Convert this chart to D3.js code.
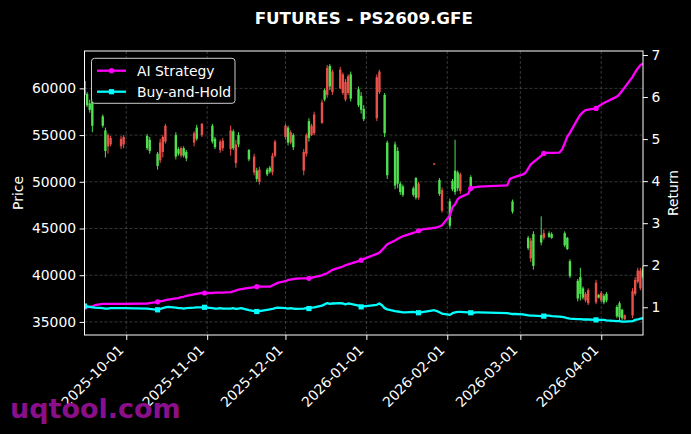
<!DOCTYPE html>
<html><head><meta charset="utf-8">
<script src="https://cdn.jsdelivr.net/npm/d3@7"></script>
<style>html,body{margin:0;padding:0;background:#000;}svg{display:block;}</style>
</head><body>
<script>
// ---------- DATA ----------
const tradeDates = [
"2025-09-15","2025-09-16","2025-09-17","2025-09-18","2025-09-19","2025-09-22","2025-09-23","2025-09-24","2025-09-25","2025-09-26","2025-09-29","2025-09-30",
"2025-10-09","2025-10-10","2025-10-13","2025-10-14","2025-10-15","2025-10-16","2025-10-17","2025-10-20","2025-10-21","2025-10-22","2025-10-23","2025-10-24","2025-10-27","2025-10-28","2025-10-29","2025-10-30","2025-10-31",
"2025-11-03","2025-11-04","2025-11-05","2025-11-06","2025-11-07","2025-11-10","2025-11-11","2025-11-12","2025-11-13","2025-11-14","2025-11-17","2025-11-18","2025-11-19","2025-11-20","2025-11-21","2025-11-24","2025-11-25","2025-11-26","2025-11-27","2025-11-28",
"2025-12-01","2025-12-02","2025-12-03","2025-12-04","2025-12-05","2025-12-08","2025-12-09","2025-12-10","2025-12-11","2025-12-12","2025-12-15","2025-12-16","2025-12-17","2025-12-18","2025-12-19","2025-12-22","2025-12-23","2025-12-24","2025-12-25","2025-12-26","2025-12-29","2025-12-30","2025-12-31",
"2026-01-05","2026-01-06","2026-01-07","2026-01-08","2026-01-09","2026-01-12","2026-01-13","2026-01-14","2026-01-15","2026-01-16","2026-01-19","2026-01-20","2026-01-21","2026-01-22","2026-01-23","2026-01-26","2026-01-27","2026-01-28","2026-01-29","2026-01-30",
"2026-02-02","2026-02-03","2026-02-04","2026-02-05","2026-02-06","2026-02-09","2026-02-10","2026-02-11","2026-02-12","2026-02-13","2026-02-24","2026-02-25","2026-02-26","2026-02-27",
"2026-03-02","2026-03-03","2026-03-04","2026-03-05","2026-03-06","2026-03-09","2026-03-10","2026-03-11","2026-03-12","2026-03-13","2026-03-16","2026-03-17","2026-03-18","2026-03-19","2026-03-20","2026-03-23","2026-03-24","2026-03-25","2026-03-26","2026-03-27","2026-03-30","2026-03-31",
"2026-04-01","2026-04-02","2026-04-03","2026-04-07","2026-04-08","2026-04-09","2026-04-10","2026-04-13","2026-04-14","2026-04-15","2026-04-16","2026-04-17"];

const aiReturn = [
1.00,1.00,1.01,1.02,1.05,1.08,1.08,1.08,1.08,1.08,1.08,1.08,
1.09,1.10,1.13,1.14,1.15,1.17,1.18,1.21,1.22,1.24,1.25,1.27,1.31,1.32,1.33,1.34,1.34,
1.34,1.35,1.35,1.35,1.35,1.36,1.38,1.40,1.42,1.43,1.46,1.47,1.48,1.49,1.49,1.49,1.49,1.52,1.55,1.58,
1.62,1.65,1.66,1.67,1.68,1.69,1.69,1.69,1.70,1.72,1.76,1.79,1.81,1.85,1.89,1.95,1.97,2.00,2.02,2.04,2.10,2.12,2.15,
2.27,2.30,2.36,2.43,2.50,2.59,2.63,2.66,2.69,2.71,2.77,2.79,2.82,2.84,2.86,2.88,2.89,2.90,2.92,2.95,
3.18,3.38,3.45,3.57,3.62,3.70,3.83,3.85,3.86,3.87,3.90,4.05,4.08,4.10,
4.16,4.20,4.30,4.40,4.45,4.60,4.66,4.67,4.67,4.67,4.68,4.75,4.90,5.06,5.15,5.48,5.58,5.64,5.69,5.70,5.73,5.78,
5.82,5.86,5.89,6.01,6.07,6.15,6.23,6.48,6.59,6.68,6.76,6.79];

const bhReturn = [
1.03,1.02,1.01,1.00,0.99,0.98,0.97,0.97,0.98,0.98,0.98,0.98,
0.97,0.96,0.94,0.96,0.98,1.00,1.01,0.99,0.98,0.98,0.97,0.98,0.99,1.00,1.00,1.00,1.00,
0.98,0.97,0.97,0.98,0.97,0.97,0.98,0.96,0.97,0.98,0.93,0.92,0.91,0.90,0.91,0.94,0.95,0.96,0.98,0.99,
0.98,0.97,0.98,0.97,0.96,0.97,0.98,0.97,0.99,1.00,1.04,1.07,1.10,1.08,1.09,1.10,1.09,1.07,1.09,1.08,1.04,1.01,1.02,
1.06,1.09,1.05,0.98,0.95,0.91,0.90,0.89,0.88,0.88,0.89,0.88,0.87,0.88,0.89,0.92,0.93,0.91,0.88,0.85,
0.82,0.86,0.88,0.89,0.89,0.88,0.87,0.87,0.88,0.88,0.86,0.85,0.84,0.84,
0.83,0.82,0.81,0.80,0.80,0.79,0.79,0.80,0.80,0.79,0.78,0.77,0.76,0.74,0.73,0.72,0.72,0.71,0.71,0.71,0.70,0.70,
0.70,0.70,0.69,0.67,0.67,0.66,0.66,0.67,0.70,0.71,0.73,0.74];

const candleDates = ["2025-09-15","2025-09-16","2025-09-17","2025-09-18","2025-09-22","2025-09-23","2025-09-24","2025-09-25","2025-09-29","2025-09-30",
"2025-10-09","2025-10-10","2025-10-13","2025-10-14","2025-10-15","2025-10-16","2025-10-20","2025-10-21","2025-10-22","2025-10-23","2025-10-24","2025-10-27","2025-10-28","2025-10-30",
"2025-11-03","2025-11-04","2025-11-06","2025-11-07","2025-11-10","2025-11-11","2025-11-12","2025-11-13","2025-11-17","2025-11-19","2025-11-20","2025-11-21","2025-11-24","2025-11-25","2025-11-26","2025-11-27",
"2025-12-01","2025-12-02","2025-12-03","2025-12-04","2025-12-08","2025-12-09","2025-12-10","2025-12-11","2025-12-12","2025-12-15","2025-12-16","2025-12-17","2025-12-18","2025-12-19","2025-12-22","2025-12-23","2025-12-24","2025-12-25","2025-12-26","2025-12-29","2025-12-30","2025-12-31",
"2026-01-05","2026-01-06","2026-01-08","2026-01-09","2026-01-12","2026-01-13","2026-01-14","2026-01-15","2026-01-19","2026-01-20","2026-01-21","2026-01-27","2026-01-29","2026-01-30",
"2026-02-02","2026-02-03","2026-02-04","2026-02-05","2026-02-06","2026-02-10","2026-02-26",
"2026-03-04","2026-03-05","2026-03-06","2026-03-09","2026-03-10","2026-03-12","2026-03-13","2026-03-18","2026-03-19","2026-03-20","2026-03-23","2026-03-24","2026-03-25","2026-03-26","2026-03-27","2026-03-30","2026-03-31",
"2026-04-01","2026-04-02","2026-04-03","2026-04-07","2026-04-08","2026-04-09","2026-04-10","2026-04-13","2026-04-14","2026-04-15","2026-04-16","2026-04-17"];
const candleOpen = [60800,59400,58400,58600,57000,55500,53800,54000,53800,54000,
54900,54500,53000,52300,53200,54300,55000,53500,52800,53600,53200,54200,55800,55000,
56000,54600,53400,53600,53500,55400,52000,55000,53400,51000,51200,50000,51300,51500,51000,52800,
54800,55800,54200,55000,51200,53000,56500,55000,55200,56300,59800,59300,62400,59600,60000,59500,58800,59500,61500,59900,59200,57800,
56800,59600,59300,54200,54000,53300,49800,49500,49300,50400,48300,51900,50200,46900,
47900,50100,51200,51000,49000,50500,47900,
44000,41800,44400,44300,44000,44500,44400,44500,44000,41500,39400,39800,38600,37300,37000,37100,37900,
37300,37800,38000,36600,37000,36300,35300,35700,38000,39300,38600,40700];
const candleHigh = [61000,59600,58800,58900,57200,55800,55200,54900,54900,55000,
55100,54800,53200,54600,55000,56200,55300,53700,53800,53800,53400,55400,56100,56300,
56200,54800,54500,54700,56000,55600,54500,55300,53500,53000,51500,51600,51500,51700,53100,54500,
56200,56000,55500,55200,53500,55200,56800,56200,57500,58800,60000,62500,62600,62000,62300,61700,61000,61500,61800,60200,59600,58200,
61500,62000,59500,54400,54300,53700,50000,49700,49500,50500,50000,52000,50400,49400,
48200,50300,54500,51200,51000,50700,48100,
44200,44000,44700,46300,44900,44700,44600,44700,44100,41700,39600,40800,38800,38200,38600,39500,38000,
38300,38000,38200,36800,37200,36400,35800,38600,39800,40800,40800,41000];
const candleLow = [59000,58000,57400,55300,55800,52600,53000,53800,53500,53600,
53400,53000,51300,52000,52600,54100,52400,52800,52600,52600,52200,53800,54400,54800,
54100,53500,53100,53300,52800,53400,51500,53700,52200,50700,50000,49700,50600,50900,50700,52600,
54500,53900,54000,53400,50700,52700,54300,54900,55000,56200,58600,59000,59800,59300,59900,59300,58600,59300,58600,58000,57300,56500,
56500,59400,54800,50300,49200,49300,48600,48400,48400,48100,48100,51800,48500,46700,
45000,49000,48600,49000,48700,49000,46600,
42700,41400,40600,43200,43800,44000,43900,43000,42700,39700,37200,37300,37400,37100,36800,36900,37500,
37100,36900,37100,35400,35200,35200,35200,35400,37800,39100,38400,39600];
const candleClose = [59300,58200,57700,56000,56000,53300,55000,54700,54600,54800,
53600,53300,51700,54200,54800,56000,52700,53000,53600,52800,52500,55200,54600,56200,
54300,53700,54300,54400,55500,53600,54000,54000,52400,52700,50300,51300,50800,51100,52800,54300,
56000,54200,55300,53700,53200,55000,54700,56000,57200,58500,58800,62200,60200,61800,62000,61500,60700,61300,58900,58200,57700,56700,
61200,61800,55200,50700,49600,49800,48900,48600,48600,48300,49800,51950,48700,49100,
45300,49200,48900,49300,50800,49200,46800,
42900,43700,41000,43500,44500,44100,44000,43200,42800,39900,37500,38000,37600,38000,38400,39200,37600,
38100,37100,37300,35600,35500,35400,35700,38300,39500,40500,40500,39800];

const priceTicks = [35000, 40000, 45000, 50000, 55000, 60000];
const returnTicks = [1, 2, 3, 4, 5, 6, 7];
const monthTicks = ["2025-10-01","2025-11-01","2025-12-01","2026-01-01","2026-02-01","2026-03-01","2026-04-01"];
const seriesNames = ["AI Strategy", "Buy-and-Hold"];
const titleText = "FUTURES - PS2609.GFE";

// ---------- LAYOUT ----------
const W = 691, H = 434;
const L = 84.5, R = 643, T = 51, B = 335;
const FONT = "DejaVu Sans, Verdana, sans-serif";
const FS = 13.9;
const parse = d3.timeParse("%Y-%m-%d");
const RED = "#e8504a", GREEN = "#4fe04f", MAG = "#ff00ff", CYA = "#00ffff";

const svg = d3.select("body").append("svg").attr("width", W).attr("height", H)
  .style("background", "#000");
svg.append("rect").attr("width", W).attr("height", H).attr("fill", "#000");

const x = d3.scaleTime().domain([parse("2025-09-15"), parse("2026-04-17")]).range([L, R]);
const yP = d3.scaleLinear().domain([33600, 64000]).range([B, T]);
const yR = d3.scaleLinear().domain([0.341, 7.095]).range([B, T]);

svg.append("defs").append("clipPath").attr("id", "clip")
  .append("rect").attr("x", L).attr("y", T).attr("width", R - L).attr("height", B - T);

// grid
const grid = svg.append("g").attr("stroke", "#5a5a5a").attr("stroke-width", 0.6).attr("stroke-dasharray", "3,2");
monthTicks.forEach(t => grid.append("line").attr("x1", x(parse(t))).attr("x2", x(parse(t))).attr("y1", T).attr("y2", B));
priceTicks.forEach(t => grid.append("line").attr("x1", L).attr("x2", R).attr("y1", yP(t)).attr("y2", yP(t)));

// candles
const cg = svg.append("g").attr("clip-path", "url(#clip)");
candleDates.forEach((ds, i) => {
  const o = candleOpen[i], h = candleHigh[i], l = candleLow[i], c = candleClose[i];
  const col = c >= o ? RED : GREEN;
  const cx = x(parse(ds));
  cg.append("line").attr("x1", cx).attr("x2", cx).attr("y1", yP(h)).attr("y2", yP(l))
    .attr("stroke", col).attr("stroke-width", 1);
  const yt = yP(Math.max(o, c)), yb = yP(Math.min(o, c));
  cg.append("rect").attr("x", cx - 1.2).attr("width", 2.4).attr("y", yt).attr("height", Math.max(1, yb - yt))
    .attr("fill", col);
});

// lines
const lg = svg.append("g").attr("clip-path", "url(#clip)");
const dates = tradeDates.map(parse);
const mkLine = vals => d3.line().x((d, i) => x(dates[i])).y(d => yR(d))(vals);
lg.append("path").attr("d", mkLine(aiReturn)).attr("fill", "none").attr("stroke", MAG).attr("stroke-width", 2.3).attr("stroke-linejoin", "round");
aiReturn.forEach((v, i) => { if (i % 14 === 0) lg.append("circle").attr("cx", x(dates[i])).attr("cy", yR(v)).attr("r", 2.6).attr("fill", MAG); });
lg.append("path").attr("d", mkLine(bhReturn)).attr("fill", "none").attr("stroke", CYA).attr("stroke-width", 2.3).attr("stroke-linejoin", "round");
bhReturn.forEach((v, i) => { if (i % 14 === 0) lg.append("rect").attr("x", x(dates[i]) - 2.6).attr("y", yR(v) - 2.6).attr("width", 5.2).attr("height", 5.2).attr("fill", CYA); });

// axes
function styleAxis(g) {
  g.select(".domain").remove();
  g.selectAll(".tick line").attr("stroke", "#fff").attr("stroke-width", 1);
  g.selectAll(".tick text").attr("fill", "#fff").style("font-family", FONT).style("font-size", FS + "px");
}
svg.append("g").attr("transform", `translate(${L},0)`)
  .call(d3.axisLeft(yP).tickValues(priceTicks).tickSize(4.9).tickPadding(3.5).tickFormat(d3.format("d")))
  .call(styleAxis);
svg.append("g").attr("transform", `translate(${R},0)`)
  .call(d3.axisRight(yR).tickValues(returnTicks).tickSize(4.9).tickPadding(3.5).tickFormat(d3.format("d")))
  .call(styleAxis);
const xa = svg.append("g").attr("transform", `translate(0,${B})`)
  .call(d3.axisBottom(x).tickValues(monthTicks.map(parse)).tickSize(4.9).tickPadding(3.5).tickFormat(d3.timeFormat("%Y-%m-%d")))
  .call(styleAxis);
xa.selectAll(".tick text").attr("x", 0).attr("y", 0).attr("dy", 0).attr("text-anchor", "end")
  .attr("transform", "translate(-2.3,15.9) rotate(-45)");

// spines
svg.append("rect").attr("x", L).attr("y", T).attr("width", R - L).attr("height", B - T)
  .attr("fill", "none").attr("stroke", "#fff").attr("stroke-width", 1);

// axis labels
svg.append("text").attr("transform", `translate(22.5,${(T + B) / 2}) rotate(-90)`).attr("text-anchor", "middle")
  .attr("fill", "#fff").style("font-family", FONT).style("font-size", FS + "px").text("Price");
svg.append("text").attr("transform", `translate(678,${(T + B) / 2}) rotate(-90)`).attr("text-anchor", "middle")
  .attr("fill", "#fff").style("font-family", FONT).style("font-size", FS + "px").text("Return");

// title
svg.append("text").attr("x", (L + R) / 2).attr("y", 23.5).attr("text-anchor", "middle")
  .attr("fill", "#fff").style("font-family", FONT).style("font-size", "16.7px").style("font-weight", "bold").text(titleText);

// legend
const leg = svg.append("g");
leg.append("rect").attr("x", 91.5).attr("y", 58.3).attr("width", 143.5).attr("height", 45).attr("rx", 3)
  .attr("fill", "#000").attr("fill-opacity", 0.8).attr("stroke", "#cccccc").attr("stroke-width", 1);
[[MAG, "circle"], [CYA, "square"]].forEach((s, i) => {
  const yy = 70.7 + i * 21;
  leg.append("line").attr("x1", 97).attr("x2", 126).attr("y1", yy).attr("y2", yy).attr("stroke", s[0]).attr("stroke-width", 2.3);
  if (s[1] === "circle") leg.append("circle").attr("cx", 111.5).attr("cy", yy).attr("r", 2.6).attr("fill", s[0]);
  else leg.append("rect").attr("x", 111.5 - 2.6).attr("y", yy - 2.6).attr("width", 5.2).attr("height", 5.2).attr("fill", s[0]);
  leg.append("text").attr("x", 137).attr("y", yy).attr("dy", "0.35em").attr("fill", "#fff")
    .style("font-family", FONT).style("font-size", FS + "px").text(seriesNames[i]);
});

// watermark
svg.append("text").attr("x", 10).attr("y", 418).attr("fill", "#8a0f8a")
  .style("font-family", FONT).style("font-size", "27px").style("font-weight", "bold").text("uqtool.com");
</script>
</body></html>
